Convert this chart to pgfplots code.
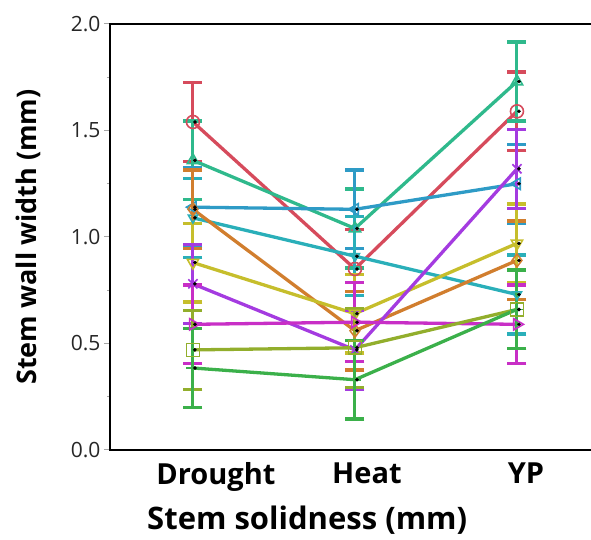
\documentclass[border=0pt]{standalone}
\usepackage{pgfplots}
\usepackage{pgfplotstable}
\pgfplotsset{compat=1.18}
\usepackage{fontspec}
\setmainfont{Open Sans}
\usetikzlibrary{plotmarks}
\definecolor{sRed}{HTML}{D64B5C}
\definecolor{sTeal}{HTML}{2FB98C}
\definecolor{sBlue}{HTML}{2E9BC6}
\definecolor{sCyan}{HTML}{2AAFB9}
\definecolor{sOrange}{HTML}{D17E2E}
\definecolor{sYellow}{HTML}{C6BE2C}
\definecolor{sPurple}{HTML}{A43BE0}
\definecolor{sMagenta}{HTML}{C82FC6}
\definecolor{sOlive}{HTML}{92AE2C}
\definecolor{sGreen}{HTML}{3BB04A}
\pgfplotstableread{
x r t b c o yl p m l g e
0 1.54 1.36 1.14 1.09 1.13 0.88 0.78 0.59 0.47 0.385 0.185
1 0.85 1.04 1.13 0.91 0.56 0.64 0.47 0.60 0.48 0.33 0.185
2 1.59 1.73 1.25 0.73 0.89 0.97 1.32 0.59 0.66 0.66 0.185
}\data
\begin{document}
\begin{tikzpicture}
\begin{axis}[
  at={(0,0)}, anchor=south west,
  scale only axis, width=481pt, height=426pt,
  xmin=-0.512, xmax=2.457, ymin=0, ymax=2,
  axis line style={draw=none},
  clip=false,
  xtick={0.142,1.074,2.056}, xticklabels={Drought,Heat,YP},
  xtick style={draw=none},
  x tick label style={font=\bfseries\fontsize{29}{32}\selectfont, anchor=north, yshift=-3pt},
  ytick={0,0.5,1,1.5,2},
  minor ytick={0.25,0.75,1.25,1.75},
  ytick pos=left,
  tick align=outside,
  major tick length=6pt, minor tick length=3pt,
  every tick/.style={gray!70, line width=1pt},
  y tick label style={font=\fontsize{21}{24}\selectfont, text=black!85},
  yticklabel style={/pgf/number format/.cd, fixed, fixed zerofill, precision=1, assume math mode=true},
  ylabel={Stem wall width (mm)},
  ylabel style={font=\bfseries\fontsize{27}{30}\selectfont, at={(axis description cs:-0.1705,0.5)}, anchor=center},
  xlabel={Stem solidness (mm)},
  xlabel style={font=\bfseries\fontsize{31}{34}\selectfont, at={(axis description cs:0.41,-0.164)}, anchor=center},
  every axis plot/.append style={line width=3.3pt, mark size=6.5pt},
]
\pgfplotsset{eb/.style={error bars/y dir=both, error bars/y explicit,
     error bars/error bar style={line width=3pt},
     error bars/error mark options={rotate=90, line width=3.3pt, mark size=9.5pt}}}
\addplot[color=sRed, mark=o, mark options={solid, line width=1.6pt}, eb] table[x=x, y=r, y error=e]{\data};
\addplot[color=sTeal, mark=triangle, mark options={solid, line width=1.6pt}, eb] table[x=x, y=t, y error=e]{\data};
\addplot[color=sBlue, mark=triangle, mark options={solid, line width=1.6pt, rotate=90}, eb] table[x=x, y=b, y error=e]{\data};
\addplot[color=sCyan, mark=triangle, mark options={solid, line width=1.6pt, rotate=180, scale=0.8}, eb] table[x=x, y=c, y error=e]{\data};
\addplot[color=sOrange, mark=diamond, mark options={solid, line width=1.6pt}, eb] table[x=x, y=o, y error=e]{\data};
\addplot[color=sYellow, mark=triangle, mark options={solid, line width=1.6pt, rotate=180}, eb] table[x=x, y=yl, y error=e]{\data};
\addplot[color=sPurple, mark=x, mark options={solid, line width=1.6pt}, eb] table[x=x, y=p, y error=e]{\data};
\addplot[color=sMagenta, mark=triangle, mark options={solid, line width=1.6pt, rotate=-90}, eb] table[x=x, y=m, y error=e]{\data};
\addplot[color=sOlive, mark=square, mark options={solid, line width=1.6pt}, eb] table[x=x, y=l, y error=e]{\data};
\addplot[color=sGreen, mark=+, mark options={solid, line width=1.6pt}, eb] table[x=x, y=g, y error=e]{\data};
\pgfplotsinvokeforeach{r,t,b,c,o,yl,p,m,l,g}{
  \addplot[only marks, mark=*, mark size=1.6pt, black, mark options={xshift=2pt, line width=0.4pt}, forget plot] table[x=x, y=#1]{\data};
}
\draw[line width=1.5pt, black] (rel axis cs:1,0) -- (rel axis cs:0,0) -- (rel axis cs:0,1) -- (rel axis cs:1,1);
\end{axis}
\pgfresetboundingbox
\path[use as bounding box] (-110pt,-90pt) rectangle (481pt,450pt);
\end{tikzpicture}
\end{document}
